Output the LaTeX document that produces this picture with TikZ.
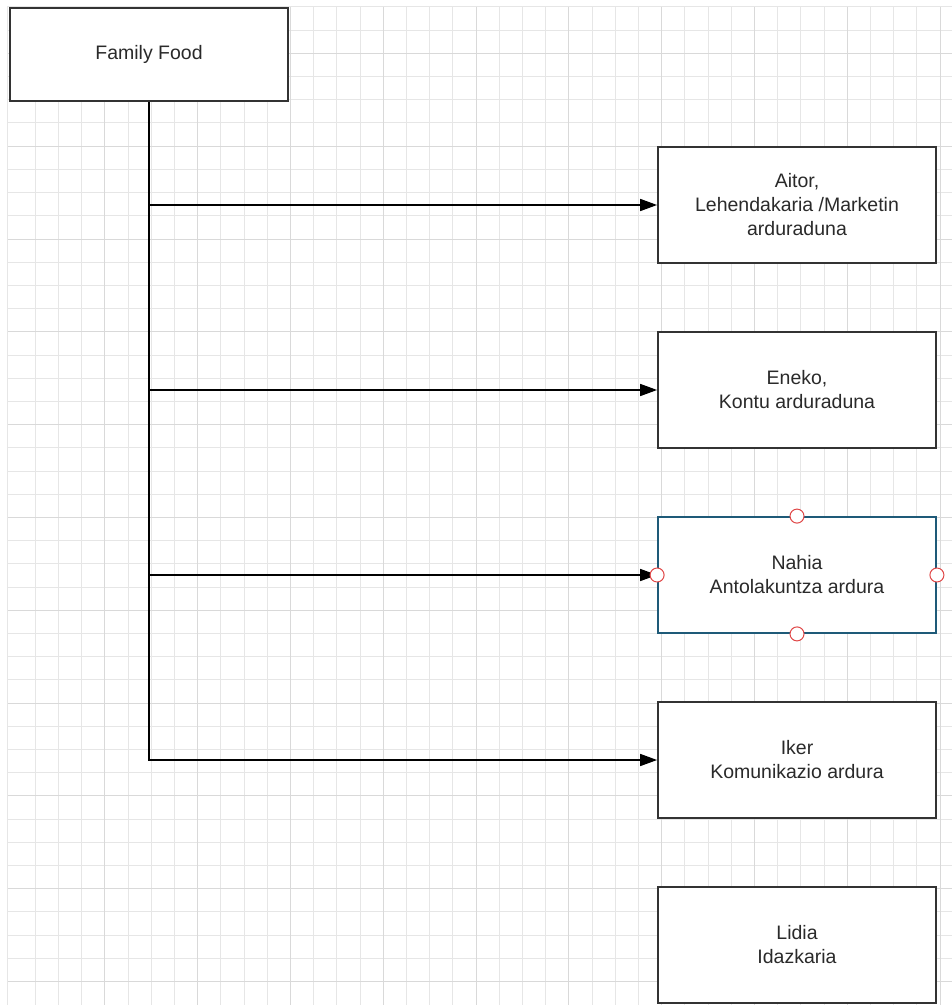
\documentclass[tikz,border=0pt]{standalone}
\usepackage{fontspec}
\setmainfont{Liberation Sans}
\usetikzlibrary{arrows.meta}
\definecolor{gridminor}{HTML}{E6E6E6}
\definecolor{gridmajor}{HTML}{D9D9D9}
\definecolor{boxline}{HTML}{333333}
\definecolor{textcol}{HTML}{2A2A2A}
\definecolor{selline}{HTML}{1E5A78}
\definecolor{handlered}{HTML}{E04848}
\begin{document}
\begin{tikzpicture}[x=1pt,y=-1pt,
  box/.style={draw=boxline, line width=1.8pt, fill=white, minimum width=278pt,
    minimum height=116pt, inner sep=0pt, align=center,
    font=\fontsize{19.5}{24}\selectfont, text=textcol},
  conn/.style={line width=1.6pt, draw=black},
  arr/.style={conn, -{Triangle[length=17pt,width=12pt]}},
  handle/.style={circle, draw=handlered, fill=white, minimum size=14pt,
    inner sep=0pt, line width=1pt}]
\useasboundingbox (0,0) rectangle (952,1006);
\fill[white] (0,0) rectangle (952,1006);
% grid
\begin{scope}
\clip (7,7) rectangle (952,1005);
\foreach \i in {1,...,40} \draw[gridminor, line width=1pt] (12+23.2*\i,7) -- (12+23.2*\i,1005);
\foreach \k in {0,...,42} \draw[gridminor, line width=1pt] (7,7+23.2*\k) -- (952,7+23.2*\k);
\foreach \i in {4,8,...,40} \draw[gridmajor, line width=1pt] (12+23.2*\i,7) -- (12+23.2*\i,1005);
\foreach \k in {2,6,...,42} \draw[gridmajor, line width=1pt] (7,7+23.2*\k) -- (952,7+23.2*\k);
\draw[gridminor, line width=1pt] (7.5,7) -- (7.5,1005);
\end{scope}
% nodes
\node[box, minimum height=93pt] (ff) at (149,54.5) {Family Food};
\node[box] (n1) at (797,205) {Aitor,\\Lehendakaria /Marketin\\arduraduna};
\node[box] (n2) at (797,390) {Eneko,\\Kontu arduraduna};
\node[box, draw=selline] (n3) at (797,575) {Nahia\\Antolakuntza ardura};
\node[box] (n4) at (797,760) {Iker\\Komunikazio ardura};
\node[box] (n5) at (797,945) {Lidia\\Idazkaria};
% connectors
\coordinate (j1) at (ff.south |- n1.west);
\coordinate (j2) at (ff.south |- n2.west);
\coordinate (j3) at (ff.south |- n3.west);
\draw[conn] (ff.south) -- (j3);
\draw[arr] (j3) |- (n4.west);
\draw[arr] (j1) -- (n1.west);
\draw[arr] (j2) -- (n2.west);
\draw[arr] (j3) -- (n3.west);
% selection handles
\node[handle] (h1) at (n3.north) {};
\node[handle] (h2) at (n3.south) {};
\node[handle] (h3) at (n3.west) {};
\node[handle] (h4) at (n3.east) {};
\end{tikzpicture}
\end{document}
